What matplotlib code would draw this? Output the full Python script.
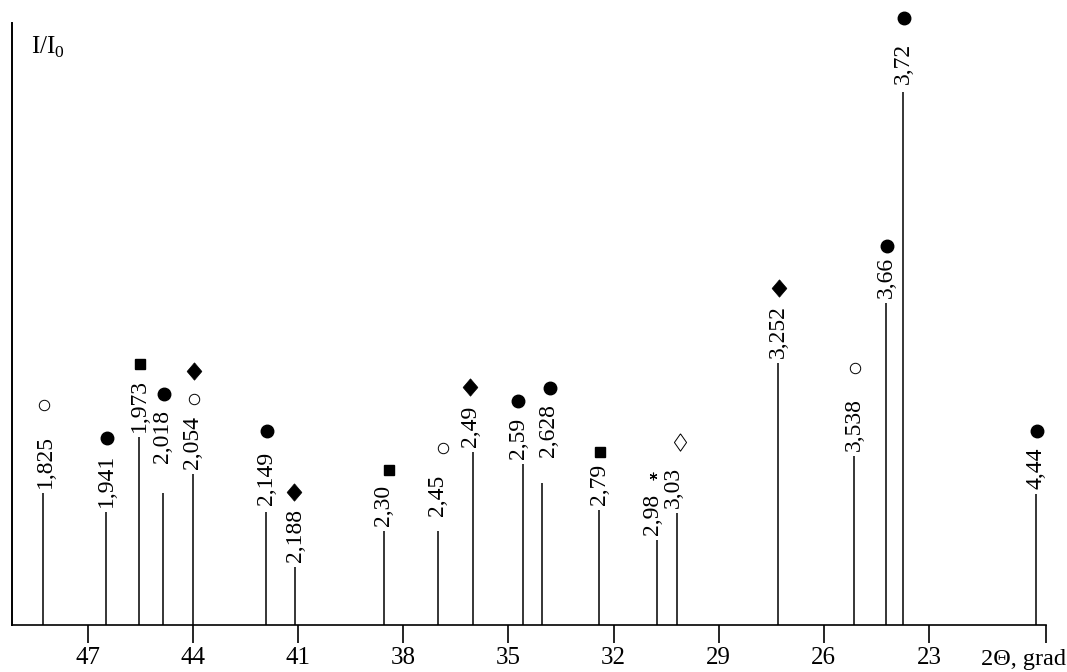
import matplotlib
matplotlib.use('Agg')
from matplotlib import pyplot as plt

plt.rcParams['font.family'] = ['Liberation Serif', 'DejaVu Serif']
plt.rcParams['mathtext.fontset'] = 'custom'
plt.rcParams['mathtext.rm'] = 'Liberation Serif'

# peak positions (2 theta, deg), relative intensity, d-spacing labels, phase marks
two_theta = [48.27, 46.48, 45.53, 44.86, 44.0, 41.91, 41.08, 38.55, 37.01, 36.01,
             34.58, 34.04, 32.41, 30.76, 30.19, 27.31, 25.14, 24.22, 23.74, 19.94]
intensity = [24.8, 21.2, 35.3, 24.8, 28.4, 21.2, 10.9, 17.7, 17.7, 32.5,
             30.3, 26.7, 21.6, 16.0, 21.1, 49.2, 31.8, 60.5, 100.0, 24.6]
d_labels = ['1,825', '1,941', '1,973', '2,018', '2,054', '2,149', '2,188', '2,30', '2,45', '2,49',
            '2,59', '2,628', '2,79', '2,98', '3,03', '3,252', '3,538', '3,66', '3,72', '4,44']
phases = [['open_c'], ['circle'], ['square'], ['circle'], ['open_c', 'diamond'], ['circle'],
          ['diamond'], ['square'], ['open_c'], ['diamond'], ['circle'], ['circle'], ['square'],
          ['star'], ['open_d'], ['diamond'], ['open_c'], ['circle'], ['circle'], ['circle']]

x_ticks = [47, 44, 41, 38, 35, 32, 29, 26, 23]
x_range = (49.16, 19.67)

diamond = [(0, 1), (0.85, 0), (0, -1), (-0.85, 0), (0, 1)]
slim_diamond = [(0, 1), (0.7, 0), (0, -1), (-0.7, 0), (0, 1)]
marker_style = {
    'circle': dict(marker='o', ms=9, mfc='black', mec='black'),
    'open_c': dict(marker='o', ms=7.5, mfc='white', mec='black', mew=0.7),
    'square': dict(marker='s', ms=7.5, mfc='black', mec='black'),
    'diamond': dict(marker=diamond, ms=12.5, mfc='black', mec='black', mew=0.5),
    'open_d': dict(marker=slim_diamond, ms=12.5, mfc='white', mec='black', mew=0.7),
    'star': dict(marker=(6, 2, 0), ms=5.5, mec='black', mew=0.8),
}
marker_gap = {'circle': 16, 'open_c': 28, 'square': 15, 'diamond': 17, 'open_d': 24, 'star': 18}
# layout tweaks (pixels)
label_lift = {'2,018': 25, '2,628': 21, '2,45': 10, '2,149': 2, '3,72': 3}
label_shift = {'2,59': -5, '2,628': 6, '2,98': -4, '3,03': -4, '1,825': 2, '2,49': -2}
mark_lift = {'2,054': -11, '3,72': 9, '2,149': 5, '2,79': -3, '3,66': -5, '2,45': -2,
             '1,825': 2, '3,538': 2, '2,49': 2}
mark_shift = {'2,59': -6, '2,628': 7, '2,98': -5, '2,30': 4, '2,45': 4, '3,03': 2, '2,49': -4,
              '2,188': -2}

fig = plt.figure(figsize=(10.67, 6.72), dpi=100)
ax = fig.add_axes([0.01125, 0.0699, 0.9688, 0.8959])

ax.vlines(two_theta, 0, intensity, color='black', lw=1.1)

ax.set_xlim(*x_range)
ax.set_ylim(0, 113)
ax.spines['top'].set_visible(False)
ax.spines['right'].set_visible(False)
ax.spines['left'].set_linewidth(1.4)
ax.spines['bottom'].set_linewidth(1.2)
ax.set_yticks([])
ax.set_xticks(x_ticks + [x_range[1]])
ax.set_xticklabels([str(t) for t in x_ticks] + [''])
ax.tick_params(axis='x', direction='out', length=13, width=1.2, pad=3, labelsize=18)

ax.text(0.018, 0.98, r'I/I$_\mathregular{0}$', transform=ax.transAxes, fontsize=18,
        ha='left', va='top')
ax.text(1066, 672 - 659, '2Θ, grad', transform=None, fontsize=17.5, ha='right', va='center')

px = 72 / fig.dpi
texts = []
for x, h, lab in zip(two_theta, intensity, d_labels):
    t = ax.annotate(lab, (x, h),
                    xytext=(label_shift.get(lab, 0) * px, (5 + label_lift.get(lab, 0)) * px),
                    textcoords='offset points', rotation=90, ha='center', va='bottom',
                    fontsize=17)
    texts.append(t)

fig.canvas.draw()
renderer = fig.canvas.get_renderer()
inv = ax.transData.inverted()
for x, t, marks, lab in zip(two_theta, texts, phases, d_labels):
    bb = t.get_window_extent(renderer)
    xpix = ax.transData.transform((x, 0))[0] + 1 + mark_shift.get(lab, 0)
    ypix = bb.y1 + mark_lift.get(lab, 0)
    for m in marks:
        ypix += marker_gap[m]
        mx, my = inv.transform((xpix, ypix))
        ax.plot([mx], [my], ls='none', clip_on=False, **marker_style[m])
        ypix += 11

plt.savefig('out.png', dpi=100)
